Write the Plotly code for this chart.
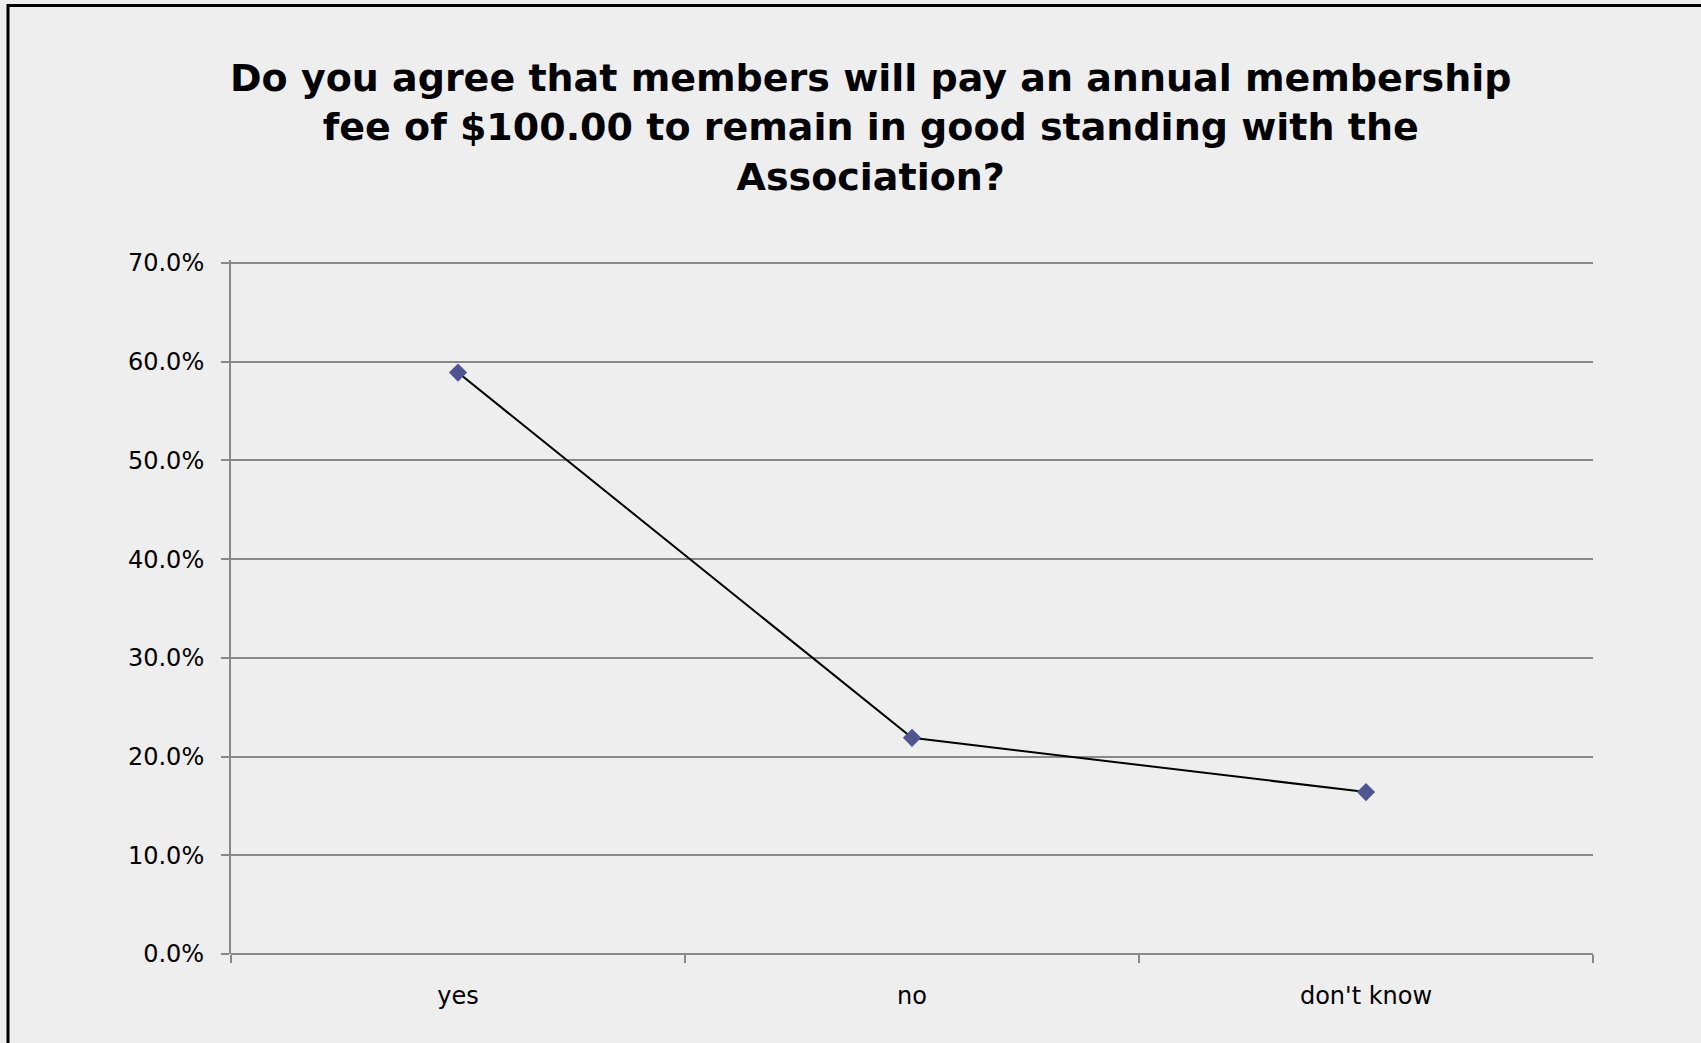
import plotly.graph_objects as go

categories = ["yes", "no", "don't know"]
values = [0.589, 0.219, 0.164]
y_ticks = [0.0, 0.1, 0.2, 0.3, 0.4, 0.5, 0.6, 0.7]

title_text = ("Do you agree that members will pay an annual membership<br>"
              "fee of $100.00 to remain in good standing with the<br>Association?")

W, H = 1701, 1043
ML, MR, MT, MB = 231, 108, 260, 89
PW, PH = W - ML - MR, H - MT - MB

fig = go.Figure()
fig.add_trace(go.Scatter(
    x=categories, y=values, mode="lines+markers",
    line=dict(color="#000000", width=2),
    marker=dict(symbol="diamond", size=14, color="#4f5591",
                line=dict(width=0)),
    hoverinfo="x+y",
))

def px_x(p):
    return (p - ML) / PW

def px_y(p):
    return (H - MB - p) / PH

fig.update_layout(
    width=W, height=H,
    margin=dict(l=ML, r=MR, t=MT, b=MB),
    paper_bgcolor="#eeeeee", plot_bgcolor="#eeeeee",
    showlegend=False,
    font=dict(family="DejaVu Sans", size=24, color="#000000"),
    xaxis=dict(
        type="category", range=[-0.5, 2.5],
        showgrid=False, showline=False, zeroline=False,
        ticks="outside", tickson="boundaries", ticklen=8, tickwidth=2,
        tickcolor="#888888", ticklabelstandoff=25,
        tickfont=dict(size=24, family="DejaVu Sans", color="#000000"),
    ),
    yaxis=dict(
        range=[0, 0.703], tickvals=y_ticks, tickformat=".1%",
        showgrid=True, gridcolor="#888888", gridwidth=2,
        showline=True, linecolor="#888888", linewidth=2,
        zeroline=True, zerolinecolor="#888888", zerolinewidth=2,
        ticks="outside", ticklen=8, tickwidth=2, tickcolor="#888888",
        ticklabelstandoff=12,
        tickfont=dict(size=24, family="DejaVu Sans", color="#000000"),
    ),
    annotations=[
        dict(text=title_text, xref="paper", yref="paper",
             x=px_x(W / 2 + 20), y=px_y(127), xanchor="center", yanchor="middle",
             showarrow=False, align="center",
             font=dict(family="DejaVu Sans", size=38, color="#000000",
                       weight="bold")),
    ],
    shapes=[
        dict(type="line", xref="paper", yref="paper",
             x0=px_x(7), x1=px_x(W + 5), y0=px_y(5.5), y1=px_y(5.5),
             line=dict(color="#000000", width=3)),
        dict(type="line", xref="paper", yref="paper",
             x0=px_x(8), x1=px_x(8), y0=px_y(4), y1=px_y(H + 5),
             line=dict(color="#000000", width=3)),
    ],
)

fig.write_html("out.html")
